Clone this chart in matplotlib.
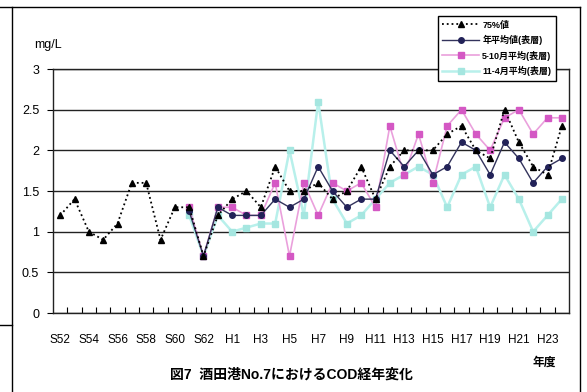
import numpy as np
import matplotlib
matplotlib.use("Agg")
import matplotlib.pyplot as plt
from matplotlib.lines import Line2D

plt.rcParams["font.family"] = ["Liberation Sans", "Noto Sans CJK JP", "DejaVu Sans"]

nan = np.nan

years = (
    [f"S{n}" for n in range(52, 64)]
    + [f"H{n}" for n in range(1, 25)]
)

# 75%値
p75 = [1.2, 1.4, 1.0, 0.9, 1.1, 1.6, 1.6, 0.9, 1.3, 1.3, 0.7, 1.2,
       1.4, 1.5, 1.3, 1.8, 1.5, 1.5, 1.6, 1.4, 1.5, 1.8, 1.4, 1.8,
       2.0, 2.0, 2.0, 2.2, 2.3, 2.0, 1.9, 2.5, 2.1, 1.8, 1.7, 2.3]

# 年平均値(表層)
annual = [nan, nan, nan, nan, nan, nan, nan, nan, nan, 1.25, 0.7, 1.3,
          1.2, 1.2, 1.2, 1.4, 1.3, 1.4, 1.8, 1.5, 1.3, 1.4, 1.4, 2.0,
          1.8, 2.0, 1.7, 1.8, 2.1, 2.0, 1.7, 2.1, 1.9, 1.6, 1.8, 1.9]

# 5-10月平均(表層)
summer = [nan, nan, nan, nan, nan, nan, nan, nan, nan, 1.3, 0.7, 1.3,
          1.3, 1.2, 1.2, 1.6, 0.7, 1.6, 1.2, 1.6, 1.5, 1.6, 1.3, 2.3,
          1.7, 2.2, 1.6, 2.3, 2.5, 2.2, 2.0, 2.4, 2.5, 2.2, 2.4, 2.4]

# 11-4月平均(表層)
winter = [nan, nan, nan, nan, nan, nan, nan, nan, nan, 1.2, 0.7, 1.2,
          1.0, 1.05, 1.1, 1.1, 2.0, 1.2, 2.6, 1.4, 1.1, 1.2, 1.4, 1.6,
          1.7, 1.8, 1.7, 1.3, 1.7, 1.8, 1.3, 1.7, 1.4, 1.0, 1.2, 1.4]

x = np.arange(len(years))

fig = plt.figure(figsize=(5.87, 3.92), dpi=100)
ax = fig.add_axes([53 / 587, 1 - 313 / 392, 516 / 587, 244 / 392])

ax.plot(x, winter, "-s", color="#b8f0eb", mfc="#a5e6e0", mec="#a5e6e0",
        ms=4, lw=1.8, label="11-4月平均(表層)", zorder=2)
ax.plot(x, summer, "-s", color="#eaa0dc", mfc="#d458c4", mec="#d458c4",
        ms=4.5, lw=1.2, label="5-10月平均(表層)", zorder=3)
ax.plot(x, annual, "-o", color="#33335c", mfc="#222258", mec="#222258",
        ms=4, lw=1.0, label="年平均値(表層)", zorder=4)
ax.plot(x, p75, ":^", color="black", ms=4.5, lw=1.3,
        label="75%値", zorder=5)

ax.set_xlim(-0.5, len(years) - 0.5)
ax.set_ylim(0, 3)
ax.set_yticks(np.arange(0, 3.01, 0.5))
ax.set_yticklabels(["0", "0.5", "1", "1.5", "2", "2.5", "3"])
ax.yaxis.grid(True, color="#222222", lw=1.0)
ax.set_axisbelow(True)

ax.set_xticks(x[::2])
ax.set_xticklabels(years[::2])
ax.set_xticks(np.arange(0.5, len(years) - 0.5, 1), minor=True)
ax.tick_params(axis="x", which="major", length=0, pad=15, labelsize=8.5)
ax.tick_params(axis="x", which="minor", direction="in", length=4, width=0.8)
ax.tick_params(axis="y", which="major", direction="out", length=4,
               labelsize=9, pad=6)

for s in ax.spines.values():
    s.set_linewidth(1.0)
    s.set_color("#222222")

fig.text(48 / 587, 1 - 45 / 392, "mg/L", ha="center", va="center", fontsize=9)
fig.text(544 / 587, 1 - 363 / 392, "年度", ha="center", va="center",
         fontsize=8.5, fontweight="bold")
fig.text(291 / 587, 1 - 375 / 392, "図7  酒田港No.7におけるCOD経年変化",
         ha="center", va="center", fontsize=10, fontweight="bold")

handles, labels = ax.get_legend_handles_labels()
leg = fig.legend(handles[::-1], labels[::-1], loc="upper left",
                 bbox_to_anchor=(433 / 587, 1 - 11 / 392),
                 prop={"size": 6.5, "weight": "bold"}, frameon=True,
                 fancybox=False, edgecolor="black", framealpha=1,
                 handlelength=4.0, labelspacing=0.6, borderpad=0.55,
                 handletextpad=0.4)
leg.get_frame().set_linewidth(1.0)
leg.set_zorder(10)

# outer frame
W, H = 587, 392
for (x0, y0, x1, y1) in [(0, 7, 580, 7), (12, 7, 12, 392), (580, 7, 580, 392),
                         (0, 325, 12, 325)]:
    fig.add_artist(Line2D([x0 / W, x1 / W], [1 - y0 / H, 1 - y1 / H],
                          color="black", lw=1.0))

fig.savefig("out.png", dpi=100)
